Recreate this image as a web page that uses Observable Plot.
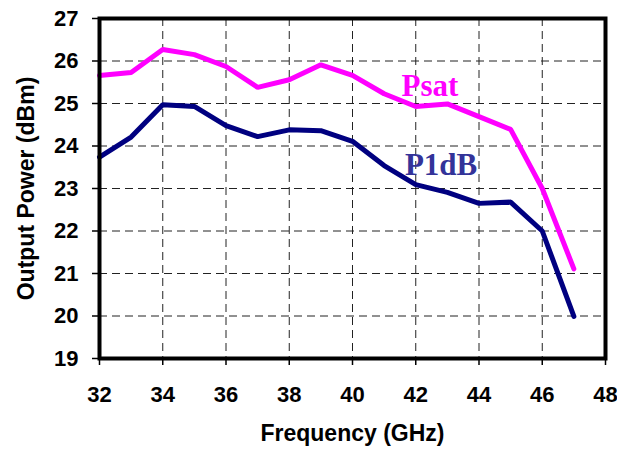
<!DOCTYPE html>
<html>
<head>
<meta charset="utf-8">
<script src="https://cdn.jsdelivr.net/npm/d3@7"></script>
<script src="https://cdn.jsdelivr.net/npm/@observablehq/plot@0.6"></script>
<style>
  html, body { margin: 0; padding: 0; background: #fff; }
</style>
</head>
<body>
<div id="chart"></div>
<script>
const freq = [32, 33, 34, 35, 36, 37, 38, 39, 40, 41, 42, 43, 44, 45, 46, 47];
const psat = [25.66, 25.73, 26.27, 26.15, 25.87, 25.38, 25.56, 25.91, 25.66, 25.23, 24.93, 24.99, 24.69, 24.39, 23.0, 21.11];
const p1db = [23.74, 24.21, 24.97, 24.93, 24.48, 24.22, 24.38, 24.36, 24.11, 23.54, 23.09, 22.91, 22.65, 22.68, 22.0, 19.99];
const xTicks = [32, 34, 36, 38, 40, 42, 44, 46, 48];
const yTicks = [19, 20, 21, 22, 23, 24, 25, 26, 27];
const seriesNames = ["Psat", "P1dB"];
const seriesColors = ["#ff00ff", "#000080"];
const labelColors = ["#ff00ff", "#333399"];
const labelX = [42.45, 42.8];
const labelY = [25.42, 23.54];

const rows = [];
freq.forEach((f, i) => {
  rows.push({series: "Psat", f, v: psat[i]});
  rows.push({series: "P1dB", f, v: p1db[i]});
});
const labels = seriesNames.map((s, i) => ({series: s, x: labelX[i], y: labelY[i], color: labelColors[i]}));

const chart = Plot.plot({
  width: 617,
  height: 451,
  marginLeft: 99,
  marginRight: 12,
  marginTop: 18,
  marginBottom: 93,
  style: {fontFamily: "'Liberation Sans', Arial, sans-serif", fontWeight: "bold", fontSize: "22px", background: "#fff", color: "#000"},
  x: {domain: [32, 48]},
  y: {domain: [19, 27]},
  color: {domain: seriesNames, range: seriesColors},
  marks: [
    Plot.ruleX(xTicks.slice(1, -1), {stroke: "#222", strokeWidth: 1, strokeDasharray: "8,5"}),
    Plot.ruleY(yTicks.slice(1, -1), {stroke: "#222", strokeWidth: 1, strokeDasharray: "8,5"}),
    Plot.line(rows, {x: "f", y: "v", z: "series", stroke: "series", strokeWidth: 5, strokeLinejoin: "miter"}),
    Plot.text(labels, {x: "x", y: "y", text: "series", fill: "color", fontFamily: "'Liberation Serif', 'Times New Roman', serif", fontWeight: "bold", fontSize: 31}),
    Plot.frame({stroke: "#000", strokeWidth: 4}),
    Plot.axisX({ticks: xTicks, tickSize: 7, tickPadding: 21, tickFormat: d => d, label: "Frequency (GHz)", labelAnchor: "center", labelArrow: "none", labelOffset: 82, fontSize: 22, fontWeight: "bold", strokeWidth: 1.5}),
    Plot.axisY({ticks: yTicks, tickSize: 7, tickPadding: 14, tickFormat: d => d, label: "Output Power (dBm)", labelAnchor: "center", labelArrow: "none", labelOffset: 82, fontSize: 22, fontWeight: "bold", strokeWidth: 1.5})
  ]
});
chart.querySelectorAll("g[aria-label='x-axis label'] text, g[aria-label='y-axis label'] text").forEach(t => t.setAttribute("font-size", "23"));
document.getElementById("chart").appendChild(chart);
</script>
</body>
</html>
